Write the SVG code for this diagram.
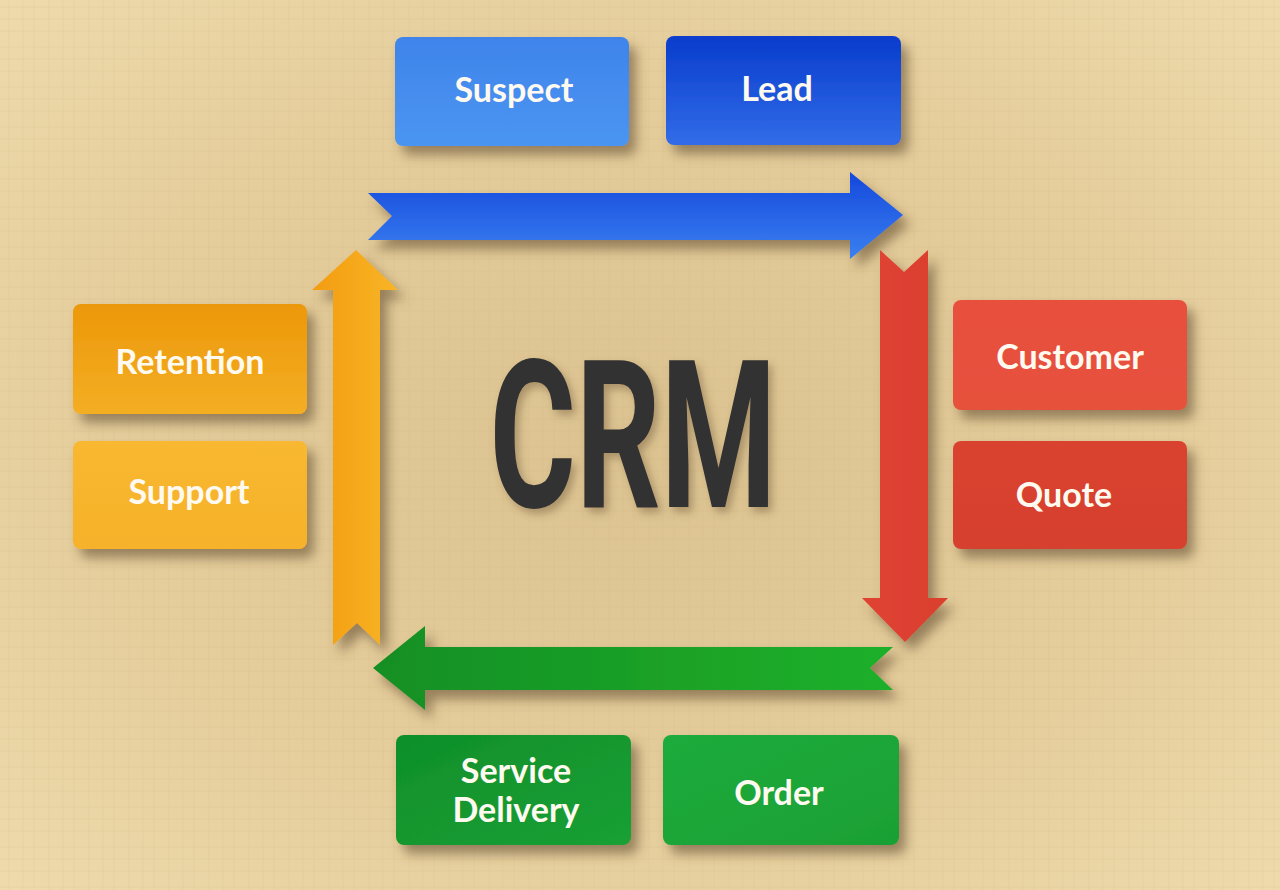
<svg xmlns="http://www.w3.org/2000/svg" width="1280" height="890" viewBox="0 0 1280 890">
  <defs>
    <radialGradient id="bg" cx="50%" cy="50%" r="70%">
      <stop offset="0" stop-color="#dbc290"/>
      <stop offset="0.6" stop-color="#e5cd9c"/>
      <stop offset="1" stop-color="#eedaab"/>
    </radialGradient>
    <pattern id="tex" width="40" height="40" patternUnits="userSpaceOnUse">
      <path d="M0 7H40M0 19H40M0 31H40" stroke="#c9ad78" stroke-opacity="0.18" stroke-width="1"/>
      <path d="M9 0V40M23 0V40M34 0V40" stroke="#c9ad78" stroke-opacity="0.15" stroke-width="1"/>
    </pattern>
    <filter id="sh" x="-20%" y="-20%" width="150%" height="160%">
      <feDropShadow dx="7" dy="9" stdDeviation="6" flood-color="#5a4528" flood-opacity="0.55"/>
    </filter>
    <filter id="tsh" x="-10%" y="-10%" width="130%" height="130%">
      <feDropShadow dx="4" dy="5" stdDeviation="4" flood-color="#6a5535" flood-opacity="0.45"/>
    </filter>
    <linearGradient id="gSuspect" x1="0" y1="0" x2="0" y2="1"><stop offset="0" stop-color="#3f84ea"/><stop offset="1" stop-color="#4b95f2"/></linearGradient>
    <linearGradient id="gLead" x1="0" y1="0" x2="0" y2="1"><stop offset="0" stop-color="#083ccc"/><stop offset="1" stop-color="#326ce8"/></linearGradient>
    <linearGradient id="gCustomer" x1="0" y1="0" x2="0" y2="1"><stop offset="0" stop-color="#e8503e"/><stop offset="1" stop-color="#e6513b"/></linearGradient>
    <linearGradient id="gQuote" x1="0" y1="0" x2="0" y2="1"><stop offset="0" stop-color="#d9432f"/><stop offset="1" stop-color="#d6402e"/></linearGradient>
    <linearGradient id="gRetention" x1="0" y1="0" x2="0" y2="1"><stop offset="0" stop-color="#ec9808"/><stop offset="1" stop-color="#f4ae24"/></linearGradient>
    <linearGradient id="gSupport" x1="0" y1="0" x2="0" y2="1"><stop offset="0" stop-color="#f8b830"/><stop offset="1" stop-color="#f6b22a"/></linearGradient>
    <linearGradient id="gService" x1="0" y1="0" x2="1" y2="1"><stop offset="0" stop-color="#0f8f2a"/><stop offset="1" stop-color="#1aa034"/></linearGradient>
    <linearGradient id="gOrder" x1="0" y1="0" x2="1" y2="1"><stop offset="0" stop-color="#1fab3c"/><stop offset="1" stop-color="#19a035"/></linearGradient>
    <linearGradient id="aBlue" x1="0" y1="0" x2="0" y2="1"><stop offset="0" stop-color="#1448dc"/><stop offset="1" stop-color="#3a80f0"/></linearGradient>
    <linearGradient id="aRed" x1="0" y1="0" x2="1" y2="0"><stop offset="0" stop-color="#e04332"/><stop offset="1" stop-color="#da3f2e"/></linearGradient>
    <linearGradient id="aGreen" x1="0" y1="0" x2="1" y2="0"><stop offset="0" stop-color="#148f24"/><stop offset="1" stop-color="#1fb02a"/></linearGradient>
    <linearGradient id="aOrange" x1="0" y1="0" x2="1" y2="0"><stop offset="0" stop-color="#f39c10"/><stop offset="1" stop-color="#f8b526"/></linearGradient>
    <style>
      .box { filter: url(#sh); }
      .lbl { font-family: Lato, "Open Sans", "Liberation Sans", sans-serif; font-weight: 700; font-size: 34px; fill: #fffaf0; text-anchor: middle; }
      .arrow { filter: url(#sh); }
    </style>
  </defs>

  <rect width="1280" height="890" fill="url(#bg)"/>
  <rect width="1280" height="890" fill="url(#tex)"/>

  <g id="connectors">
    <polygon class="arrow" fill="url(#aBlue)" points="368,193 850,193 850,172 903,215 850,259 850,240 368,240 392,216"/>
    <polygon class="arrow" fill="url(#aRed)" points="880,250 904,272 928,250 928,598 948,598 905,642 862,598 880,598"/>
    <polygon class="arrow" fill="url(#aGreen)" points="893,647 870,668 893,690 425,690 425,710 373,668 425,626 425,647"/>
    <polygon class="arrow" fill="url(#aOrange)" points="333,645 357,623 380,645 380,290 398,290 356,250 312,290 333,290"/>
  </g>

  <g id="crm" filter="url(#tsh)">
    <text x="633" y="507" font-family="Roboto, 'DejaVu Sans', sans-serif" font-weight="700" font-size="206" fill="#333333" text-anchor="middle" textLength="287" lengthAdjust="spacingAndGlyphs">CRM</text>
  </g>

  <g id="node-suspect">
    <rect class="box" x="395" y="37" width="234" height="109" rx="8" fill="url(#gSuspect)"/>
    <text class="lbl" x="514" y="102">Suspect</text>
  </g>
  <g id="node-lead">
    <rect class="box" x="666" y="36" width="235" height="109" rx="8" fill="url(#gLead)"/>
    <text class="lbl" x="777" y="101">Lead</text>
  </g>
  <g id="node-customer">
    <rect class="box" x="953" y="300" width="234" height="110" rx="8" fill="url(#gCustomer)"/>
    <text class="lbl" x="1070" y="369">Customer</text>
  </g>
  <g id="node-quote">
    <rect class="box" x="953" y="441" width="234" height="108" rx="8" fill="url(#gQuote)"/>
    <text class="lbl" x="1064" y="507">Quote</text>
  </g>
  <g id="node-retention">
    <rect class="box" x="73" y="304" width="234" height="110" rx="8" fill="url(#gRetention)"/>
    <text class="lbl" x="190" y="374">Retention</text>
  </g>
  <g id="node-support">
    <rect class="box" x="73" y="441" width="234" height="108" rx="8" fill="url(#gSupport)"/>
    <text class="lbl" x="189" y="504">Support</text>
  </g>
  <g id="node-service-delivery">
    <rect class="box" x="396" y="735" width="235" height="110" rx="8" fill="url(#gService)"/>
    <text class="lbl" x="516" y="783">Service</text>
    <text class="lbl" x="516" y="822">Delivery</text>
  </g>
  <g id="node-order">
    <rect class="box" x="663" y="735" width="236" height="110" rx="8" fill="url(#gOrder)"/>
    <text class="lbl" x="779" y="805">Order</text>
  </g>
</svg>
